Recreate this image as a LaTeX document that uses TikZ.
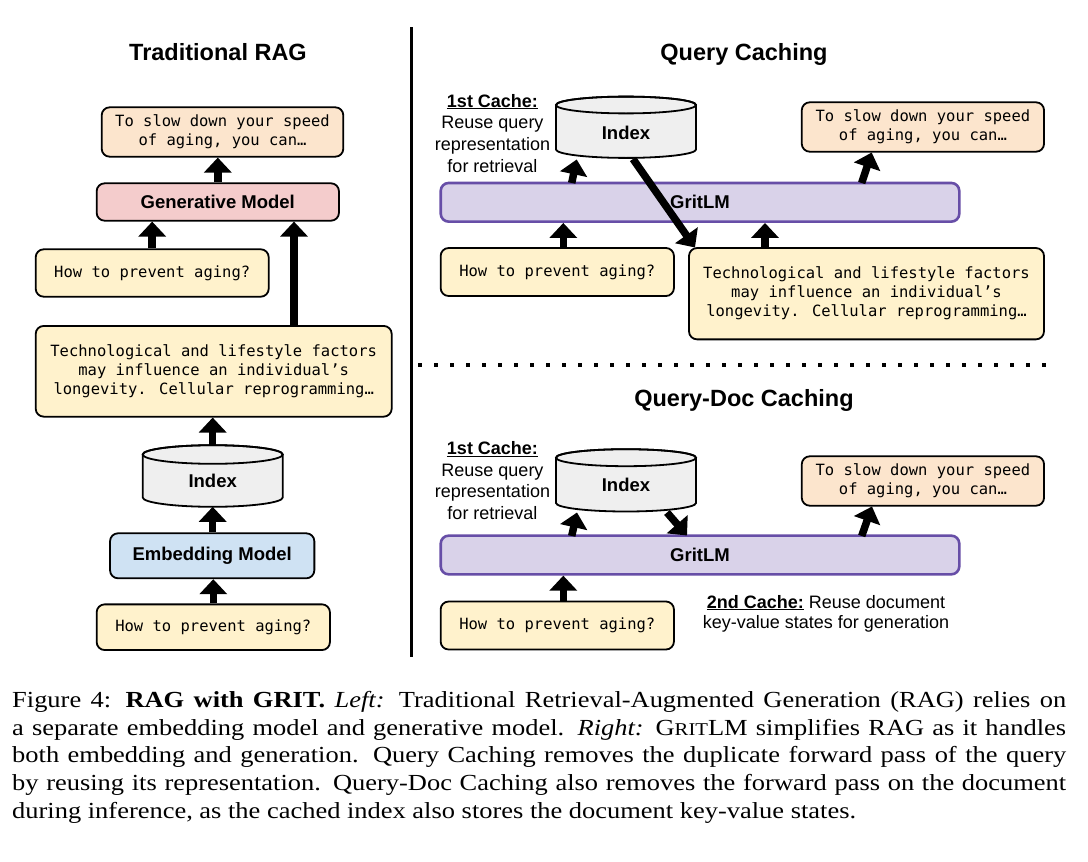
\documentclass[tikz,border=0pt]{standalone}
\usepackage{fontspec}
\usetikzlibrary{arrows.meta,calc}
\newfontfamily\lsans{Liberation Sans}
\newfontfamily\lmono{DejaVu Sans Mono}
\newfontfamily\capfont{Liberation Serif}[FakeStretch=1.15]
\definecolor{cpeach}{HTML}{FCE5CD}
\definecolor{cyell}{HTML}{FFF2CC}
\definecolor{cpink}{HTML}{F4CCCC}
\definecolor{cblue}{HTML}{CFE2F3}
\definecolor{clav}{HTML}{D9D2E9}
\definecolor{cpurple}{HTML}{674EA7}
\definecolor{cgray}{HTML}{EFEFEF}
\newcommand\drawcyl[5]{%
  \filldraw[cylstyle] (#1-#2,#3) -- (#1-#2,#4) arc[start angle=180,end angle=360,x radius=#2pt,y radius=#5pt] -- (#1+#2,#3) arc[start angle=0,end angle=180,x radius=#2pt,y radius=#5pt] -- cycle;
  \draw[line width=1.8pt] (#1,#3) ellipse[x radius=#2pt,y radius=#5pt];}
\newcommand\capline[1]{\hbox to 1054pt{#1}}
\begin{document}
\begin{tikzpicture}[x=1pt,y=-1pt,
  txtbox/.style={draw=black, line width=1.8pt, rounded corners=8pt, inner sep=0pt, align=center, font=\lmono\fontsize{15.5}{19}\selectfont},
  modelbox/.style={draw=black, line width=1.8pt, rounded corners=8pt, inner sep=0pt, font=\lsans\bfseries\fontsize{18.5}{21}\selectfont},
  gritbox/.style={draw=cpurple, fill=clav, line width=2.6pt, rounded corners=8pt, inner sep=0pt, minimum width=518.6pt, minimum height=38.7pt, font=\lsans\bfseries\fontsize{18.5}{21}\selectfont},
  bigarrow/.style={line width=7.5pt, -{Triangle[width=27pt,length=15pt]}},
  titletext/.style={font=\lsans\bfseries\fontsize{23.5}{28}\selectfont, anchor=base, inner sep=0pt},
  labtext/.style={font=\lsans\fontsize{18}{21}\selectfont, anchor=base, inner sep=0pt},
  idxtext/.style={font=\lsans\bfseries\fontsize{18.5}{21}\selectfont, inner sep=0pt},
  cylstyle/.style={fill=cgray, draw=black, line width=1.8pt},
  captext/.style={font=\capfont\fontsize{23}{27.75}\selectfont, anchor=base west, inner sep=0pt}
]
\useasboundingbox (0,0) rectangle (1088,862);
\fill[white] (0,0) rectangle (1088,862);

% ---------- separators ----------
\draw[line width=3pt] (411.5,27) -- (411.5,657);
\draw[line width=4pt, dash pattern=on 4pt off 12pt] (418,365) -- (1052,365);

% ---------- titles ----------
\node[titletext] (t1) at (218,60) {Traditional RAG};
\node[titletext] (t2) at (744,60) {Query Caching};
\node[titletext] (t3) at (744,406.5) {Query-Doc Caching};

% ---------- left: traditional RAG ----------
\node[txtbox, fill=cpeach, minimum width=241.6pt, minimum height=49.4pt] (outL) at (222.5,132) {To slow down your speed\\of aging, you can…};
\node[modelbox, fill=cpink, minimum width=242.3pt, minimum height=37.4pt] (genL) at (217.8,202) {Generative Model};
\node[txtbox, fill=cyell, minimum width=233pt, minimum height=47.4pt] (qL) at (152.2,273) {How to prevent aging?};
\node[txtbox, fill=cyell, minimum width=356pt, minimum height=90.7pt] (docL) at (213.7,371.3) {Technological and lifestyle factors\\may influence an individual’s\\longevity. Cellular reprogramming…};
\drawcyl{212.7}{70}{454.5}{497.5}{9.3}
\node[idxtext] (idxL) at (212.7,481) {Index};
\coordinate (idxLtop) at (212.7,445.2);
\coordinate (idxLbot) at (212.7,506.8);
\node[modelbox, fill=cblue, minimum width=204.3pt, minimum height=45pt] (embL) at (212.2,555.8) {Embedding Model};
\node[txtbox, fill=cyell, minimum width=233.3pt, minimum height=45.7pt] (q2L) at (213.3,627.2) {How to prevent aging?};
\coordinate (bL) at (294,0);

% ---------- right top: query caching ----------
\node[labtext] (c1a) at (492.5,107) {\underline{\textbf{1st Cache:}}};
\node[labtext] (c1b) at (492.5,128.7) {Reuse query};
\node[labtext] (c1c) at (492.5,150.4) {representation};
\node[labtext] (c1d) at (492.5,172) {for retrieval};
\drawcyl{626}{70}{105}{149.5}{8.4}
\node[idxtext] (idx1) at (626,132.7) {Index};
\node[txtbox, fill=cpeach, minimum width=242.3pt, minimum height=49.4pt] (out1) at (922.9,127) {To slow down your speed\\of aging, you can…};
\node[gritbox] (g1) at (700,202.3) {GritLM};
\node[txtbox, fill=cyell, minimum width=233.3pt, minimum height=48pt] (q1) at (557.3,272) {How to prevent aging?};
\node[txtbox, fill=cyell, minimum width=355pt, minimum height=91.3pt] (doc1) at (866.5,293.7) {Technological and lifestyle factors\\may influence an individual’s\\longevity. Cellular reprogramming…};
\coordinate (a1s) at (571.7,183);
\coordinate (a1e) at (576.7,159.5);
\coordinate (a2s) at (633,159);
\coordinate (a2e) at (695,247.5);
\coordinate (a3s) at (861.7,183);
\coordinate (a3e) at (871.7,152.5);
\coordinate (xq) at (563.3,0);
\coordinate (xd) at (765,0);

% ---------- right bottom: query-doc caching ----------
\node[labtext] (c2a) at (492.5,454.3) {\underline{\textbf{1st Cache:}}};
\node[labtext] (c2b) at (492.5,476) {Reuse query};
\node[labtext] (c2c) at (492.5,497.7) {representation};
\node[labtext] (c2d) at (492.5,519.4) {for retrieval};
\drawcyl{626}{70}{457.7}{503}{8.5}
\node[idxtext] (idx2) at (626,485.3) {Index};
\node[txtbox, fill=cpeach, minimum width=242.3pt, minimum height=49.4pt] (out2) at (922.9,481) {To slow down your speed\\of aging, you can…};
\node[gritbox] (g2) at (700,555) {GritLM};
\node[txtbox, fill=cyell, minimum width=233.3pt, minimum height=48pt] (q2) at (557.3,625.5) {How to prevent aging?};
\node[labtext] (k1) at (826,608) {\underline{\textbf{2nd Cache:}} Reuse document};
\node[labtext] (k2) at (826,628) {key-value states for generation};
\coordinate (b1s) at (571.7,536);
\coordinate (b1e) at (577,512.5);
\coordinate (b2s) at (667,512.5);
\coordinate (b2e) at (687,535.5);
\coordinate (b3s) at (861.7,536);
\coordinate (b3e) at (872,506.5);

% ---------- arrows ----------
\draw[bigarrow] (genL.north) -- (genL.north |- outL.south);
\draw[bigarrow] (qL.north) -- (qL.north |- genL.south);
\draw[bigarrow] (docL.north -| bL) -- (genL.south -| bL);
\draw[bigarrow] (idxLtop) -- (idxLtop |- docL.south);
\draw[bigarrow] (embL.north -| idxLbot) -- (idxLbot);
\draw[bigarrow] (q2L.north) -- (q2L.north |- embL.south);

\draw[bigarrow] (a1s) -- (a1e);
\draw[bigarrow] (a2s) -- (a2e);
\draw[bigarrow] (a3s) -- (a3e);
\draw[bigarrow] (q1.north -| xq) -- (g1.south -| xq);
\draw[bigarrow] (doc1.north -| xd) -- (g1.south -| xd);

\draw[bigarrow] (b1s) -- (b1e);
\draw[bigarrow] (b2s) -- (b2e);
\draw[bigarrow] (b3s) -- (b3e);
\draw[bigarrow] (q2.north -| xq) -- (g2.south -| xq);

% ---------- caption ----------
\node[captext] (cap1) at (12,707.3) {\capline{Figure 4: \textbf{RAG with GRIT.} \textit{Left:} Traditional Retrieval-Augmented Generation (RAG) relies on}};
\node[captext] (cap2) at (12,735) {\capline{a separate embedding model and generative model. \textit{Right:} G{\fontsize{18}{20}\selectfont RIT}LM simplifies RAG as it handles}};
\node[captext] (cap3) at (12,762.8) {\capline{both embedding and generation. Query Caching removes the duplicate forward pass of the query}};
\node[captext] (cap4) at (12,790.5) {\capline{by reusing its representation. Query-Doc Caching also removes the forward pass on the document}};
\node[captext] (cap5) at (12,818.3) {during inference, as the cached index also stores the document key-value states.};
\end{tikzpicture}
\end{document}
